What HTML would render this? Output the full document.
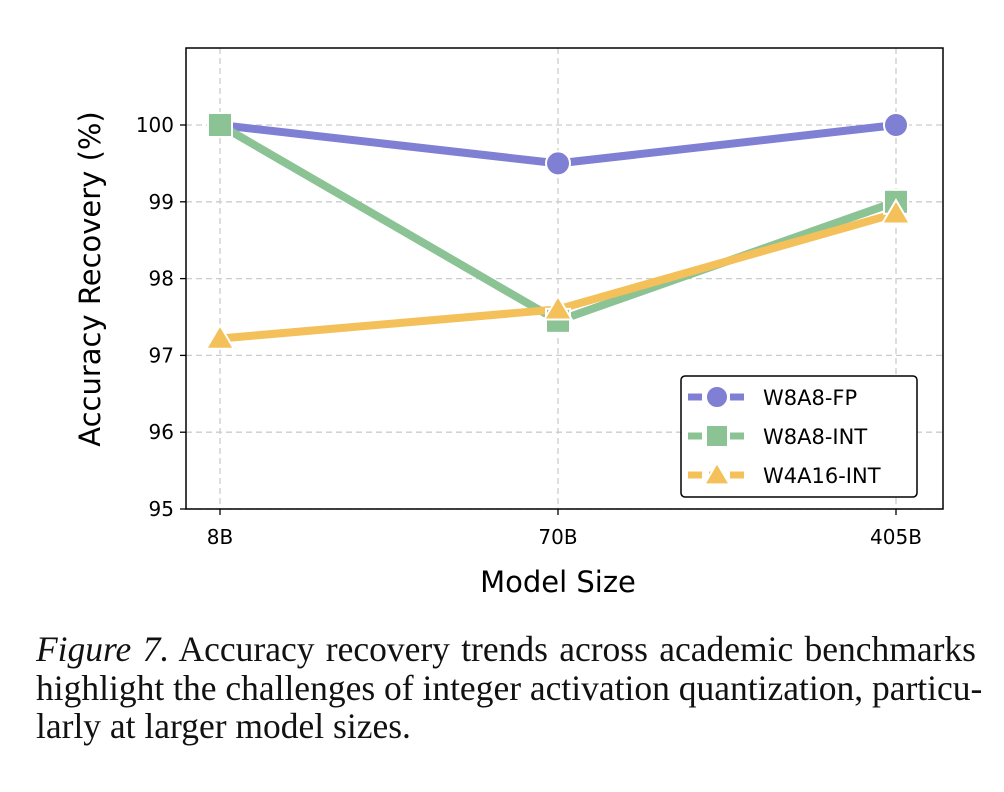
<!DOCTYPE html>
<html><head><meta charset="utf-8">
<style>
body{margin:0;background:#fff;width:1004px;height:792px;overflow:hidden}
svg text{font-family:"DejaVu Sans","Liberation Sans",sans-serif}
.cap{position:absolute;left:36px;top:630px;width:940px;font-family:"Liberation Serif",serif;font-size:35.5px;line-height:38.5px;color:#111;white-space:nowrap}
.cap div{text-align:justify;text-align-last:justify}
.cap div.last{text-align-last:left}
</style></head><body>
<svg id="chart" width="1004" height="620" style="position:absolute;left:0;top:0"></svg>
<div class="cap"><div><i>Figure 7.</i> Accuracy recovery trends across academic benchmarks</div><div>highlight the challenges of integer activation quantization, particu-</div><div class="last">larly at larger model sizes.</div></div>
<script>
const categories=["8B","70B","405B"];
const fpValues=[100,99.5,100];
const intValues=[100,97.45,99.0];
const w4Values=[97.22,97.6,98.85];
const yTicks=[95,96,97,98,99,100];
const seriesNames=["W8A8-FP","W8A8-INT","W4A16-INT"];
const NS="http://www.w3.org/2000/svg";
const svg=document.getElementById('chart');
const L=186,R=943,T=48,B=509;
const x=i=>220+338*i;
const y=v=>509-(v-95)*76.8;
function el(t,a,p){const e=document.createElementNS(NS,t);for(const k in a)e.setAttribute(k,a[k]);(p||svg).appendChild(e);return e;}
yTicks.forEach(v=>{
 const g=el('line',{x1:L,x2:R,y1:y(v),y2:y(v),stroke:'#ccc','stroke-dasharray':'6,4','stroke-width':1.3});
 
 
 const tk=el('line',{x1:L-6,x2:L,y1:y(v),y2:y(v),stroke:'#000','stroke-width':1.3});
 
 
 const t=el('text',{x:L-12,y:y(v)+7,'text-anchor':'end','font-size':20});
 t.textContent=v;
 
 
});
categories.forEach((c,i)=>{
 const g=el('line',{x1:x(i),x2:x(i),y1:T,y2:B,stroke:'#ccc','stroke-dasharray':'6,4','stroke-width':1.3});
 
 
 const tk=el('line',{x1:x(i),x2:x(i),y1:B,y2:B+6,stroke:'#000','stroke-width':1.3});
 
 
 const t=el('text',{x:x(i),y:B+35,'text-anchor':'middle','font-size':20});
 t.textContent=c;
 
 
});
const colors=['#7f7fd3','#8bc395','#f3c05a'];
const data=[fpValues,intValues,w4Values];
function marker(k,cx,cy,parent,size){
 let m;
 if(k==0)m=el('circle',{cx:cx,cy:cy,r:size,fill:colors[0],stroke:'#fff','stroke-width':2},parent);
 else if(k==1)m=el('rect',{x:cx-size,y:cy-size,width:2*size,height:2*size,fill:colors[1],stroke:'#fff','stroke-width':2},parent);
 else m=el('polygon',{points:`${cx},${cy-size*1.1} ${cx+size*1.15},${cy+size*0.85} ${cx-size*1.15},${cy+size*0.85}`,fill:colors[2],stroke:'#fff','stroke-width':2},parent);
 return m;
}
data.forEach((vals,k)=>{
 const p=el('polyline',{points:vals.map((v,i)=>x(i)+','+y(v)).join(' '),fill:'none',stroke:colors[k],'stroke-width':8,'stroke-linejoin':'round'});
 
 
});
data.forEach((vals,k)=>{
 vals.forEach((v,i)=>{
  const m=marker(k,x(i),y(v),svg,12);
  
  
 });
});
const fr=el('rect',{x:L,y:T,width:R-L,height:B-T,fill:'none',stroke:'#000','stroke-width':1.5});


const lg=el('g',{});


el('rect',{x:681,y:376,width:236,height:121,rx:4,fill:'#fff',stroke:'#000','stroke-width':1.5},lg);
seriesNames.forEach((n,k)=>{
 const ly=397+39*k;
 const e=el('g',{},lg);
 
 
 el('line',{x1:688,x2:746,y1:ly,y2:ly,stroke:colors[k],'stroke-width':7,'stroke-dasharray':'14,7'},e);
 marker(k,717,ly,e,11);
 const t=el('text',{x:763,y:ly+8,'font-size':21},e);
 t.textContent=n;
});
const xt=el('text',{x:558,y:592,'text-anchor':'middle','font-size':29});
xt.textContent='Model Size';


const yt=el('text',{x:0,y:0,'text-anchor':'middle','font-size':29,transform:'translate(100,279) rotate(-90)'});
yt.textContent='Accuracy Recovery (%)';


</script>
</body></html>
